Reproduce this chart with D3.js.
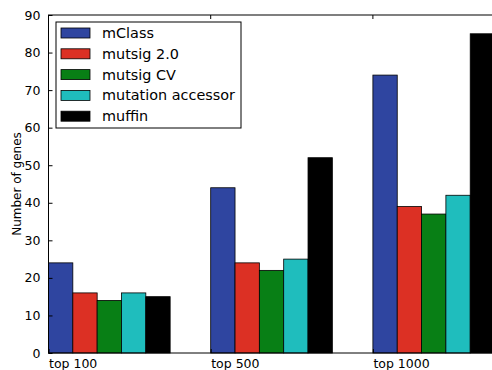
<!DOCTYPE html>
<html>
<head>
<meta charset="utf-8">
<script src="https://cdn.jsdelivr.net/npm/d3@7"></script>
<style>
  body { margin: 0; background: #fff; }
  text { font-family: "DejaVu Sans", sans-serif; fill: #000; }
</style>
</head>
<body>
<svg id="canvas" width="492" height="370"></svg>
<script>
const groups = ["top 100", "top 500", "top 1000"];
const methods = ["mClass", "mutsig 2.0", "mutsig CV", "mutation accessor", "muffin"];
const colors = ["#2f45a0", "#dc3024", "#087f15", "#1fbdbd", "#000000"];
// one row per method, one value per group
const values = [
    [24, 44, 74],
    [16, 24, 39],
    [14, 22, 37],
    [16, 25, 42],
    [15, 52, 85]
];
const yTicks = [0, 10, 20, 30, 40, 50, 60, 70, 80, 90];

const svg = d3.select("#canvas");
const plotLeft = 48.5, plotTop = 15, plotBottom = 353;
const barW = 0.15;

const x = d3.scaleLinear().domain([0, 2.75]).range([plotLeft, plotLeft + 2.75 * 162.2]);
const y = d3.scaleLinear().domain([0, 90]).range([plotBottom, plotTop]);

// bars
methods.forEach((m, mi) => {
    svg.append("g").selectAll("rect")
        .data(values[mi])
        .enter()
        .append("rect")
        .attr("x", (d, gi) => x(gi + mi * barW))
        .attr("y", d => y(d))
        .attr("width", x(barW) - x(0))
        .attr("height", d => y(0) - y(d))
        .attr("fill", colors[mi])
        .attr("stroke", "#000")
        .attr("stroke-width", 0.8);
});

// axes
const yAxis = d3.axisLeft(y).tickValues(yTicks).tickSizeInner(-4).tickSizeOuter(0).tickPadding(8);
const gy = svg.append("g").attr("transform", `translate(${plotLeft},0)`).call(yAxis);
gy.selectAll("text").attr("font-size", 12.5).attr("font-family", "DejaVu Sans");

const xAxis = d3.axisBottom(x).tickValues([0, 1, 2]).tickFormat((d, i) => groups[i])
    .tickSizeInner(-4).tickSizeOuter(0).tickPadding(8);
const gx = svg.append("g").attr("transform", `translate(0,${plotBottom})`).call(xAxis);
gx.selectAll("text").attr("font-size", 12.5).attr("font-family", "DejaVu Sans")
    .attr("text-anchor", "start").attr("dy", "0.55em");

// top ticks
svg.append("g").selectAll("line")
    .data([0, 1, 2])
    .enter()
    .append("line")
    .attr("x1", d => x(d)).attr("x2", d => x(d))
    .attr("y1", plotTop).attr("y2", plotTop + 4)
    .attr("stroke", "#000");

[gx, gy].forEach(g => {
    g.select(".domain").remove();
    g.selectAll("line").attr("stroke", "#000");
});

// frame
svg.append("rect")
    .attr("x", plotLeft).attr("y", plotTop)
    .attr("width", 500).attr("height", plotBottom - plotTop)
    .attr("fill", "none").attr("stroke", "#000").attr("stroke-width", 1);

// y label
svg.append("text")
    .attr("transform", `translate(21,${(plotTop + plotBottom) / 2}) rotate(-90)`)
    .attr("text-anchor", "middle")
    .attr("font-size", 12)
    .text("Number of genes");

// legend
const legend = svg.append("g").attr("transform", "translate(56,22)");
legend.append("rect")
    .attr("width", 185).attr("height", 106)
    .attr("fill", "#fff").attr("stroke", "#000").attr("stroke-width", 1);
legend.selectAll(".sw")
    .data(methods)
    .enter()
    .append("rect")
    .attr("x", 5)
    .attr("y", (d, i) => 6 + i * 20.8)
    .attr("width", 29)
    .attr("height", 10)
    .attr("fill", (d, i) => colors[i])
    .attr("stroke", "#000")
    .attr("stroke-width", 0.8);
legend.selectAll("text")
    .data(methods)
    .enter()
    .append("text")
    .attr("x", 46)
    .attr("y", (d, i) => 16 + i * 20.8)
    .attr("font-size", 14.4)
    .text(d => d);
</script>
</body>
</html>
